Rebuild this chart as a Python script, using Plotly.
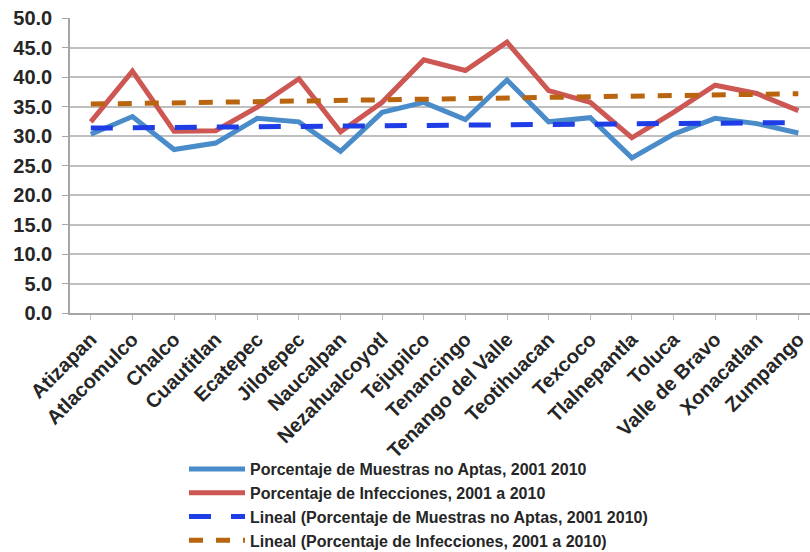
import numpy as np
import plotly.graph_objects as go

categories = ["Atizapan", "Atlacomulco", "Chalco", "Cuautitlan", "Ecatepec", "Jilotepec",
              "Naucalpan", "Nezahualcoyotl", "Tejupilco", "Tenancingo", "Tenango del Valle",
              "Teotihuacan", "Texcoco", "Tlalnepantla", "Toluca", "Valle de Bravo",
              "Xonacatlan", "Zumpango"]
muestras = [30.3, 33.3, 27.7, 28.8, 33.0, 32.4, 27.4, 34.0, 35.7, 32.8, 39.5,
            32.4, 33.1, 26.3, 30.3, 33.0, 32.1, 30.5]
infecciones = [32.4, 41.0, 30.8, 30.9, 34.9, 39.7, 30.7, 35.7, 42.9, 41.1, 45.9,
               37.7, 35.7, 29.7, 34.0, 38.6, 37.2, 34.3]
ytick_vals = [0, 5, 10, 15, 20, 25, 30, 35, 40, 45, 50]
ytick_text = ["0.0", "5.0", "10.0", "15.0", "20.0", "25.0", "30.0", "35.0", "40.0", "45.0", "50.0"]

name_m = "Porcentaje de Muestras no Aptas, 2001 2010"
name_i = "Porcentaje de Infecciones, 2001 a 2010"

idx = np.arange(len(categories))
trend_m = np.polyval(np.polyfit(idx, muestras, 1), idx)
trend_i = np.polyval(np.polyfit(idx, infecciones, 1), idx)

fig = go.Figure()
fig.add_trace(go.Scatter(x=idx, y=muestras, mode="lines", name=name_m,
                         line=dict(color="#4A8BC9", width=5)))
fig.add_trace(go.Scatter(x=idx, y=infecciones, mode="lines", name=name_i,
                         line=dict(color="#CC5753", width=5)))
fig.add_trace(go.Scatter(x=idx, y=trend_m, mode="lines",
                         name="Lineal (" + name_m + ")",
                         line=dict(color="#1E3DE6", width=5, dash="22px,20px")))
fig.add_trace(go.Scatter(x=idx, y=trend_i, mode="lines",
                         name="Lineal (" + name_i + ")",
                         line=dict(color="#B9650F", width=5, dash="14px,13px")))

fig.update_layout(
    width=810, height=552,
    margin=dict(l=70, r=0, t=18, b=239, autoexpand=False),
    plot_bgcolor="white", paper_bgcolor="white",
    showlegend=True,
    legend=dict(xref="container", yref="container",
                x=184 / 810, xanchor="left", y=1 - 452 / 552, yanchor="top",
                font=dict(family="Liberation Sans, Arial", size=16, color="#262626", weight="bold"),
                itemwidth=56, tracegroupgap=0, bgcolor="rgba(0,0,0,0)"),
    xaxis=dict(range=[-0.5, 17.28], tickmode="array", tickvals=idx, ticktext=categories,
               tickangle=-45, automargin=False,
               tickfont=dict(family="Liberation Sans, Arial", size=20, color="#262626", weight="bold"),
               ticklabelstandoff=0,
               showgrid=False, zeroline=False,
               showline=True, linecolor="#A6A6A6", linewidth=1.5,
               ticks="outside", ticklen=5, tickcolor="#BFBFBF"),
    yaxis=dict(range=[0, 50], tickmode="array", tickvals=ytick_vals, ticktext=ytick_text,
               automargin=False,
               tickfont=dict(family="Liberation Sans, Arial", size=20, color="#262626", weight="bold"),
               ticklabelstandoff=6,
               showgrid=True, gridcolor="#BFBFBF", gridwidth=1.5, zeroline=False,
               showline=True, linecolor="#A6A6A6", linewidth=1.5,
               ticks="outside", ticklen=6, tickcolor="#A6A6A6"),
)

fig.write_html("out.html")
